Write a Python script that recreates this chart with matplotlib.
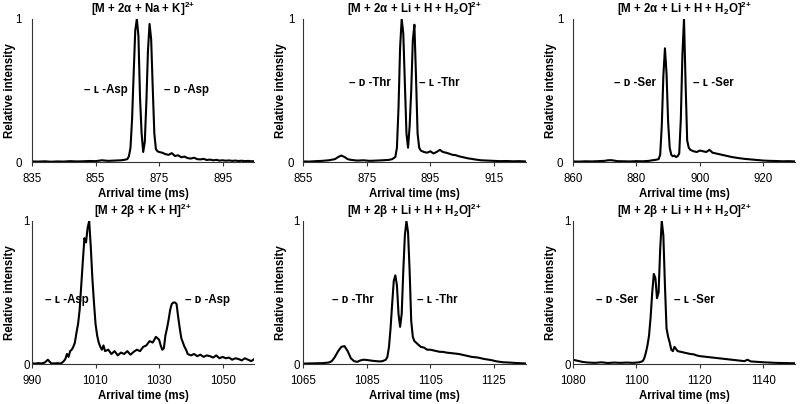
import matplotlib
matplotlib.use('Agg')
import matplotlib.pyplot as plt

plt.rcParams['font.family'] = ['Liberation Sans', 'DejaVu Sans']
plt.rcParams['mathtext.default'] = 'regular'

# ---- panel data (arrival time in ms, relative intensity) ----
t1 = [835, 837, 839, 841, 843, 845, 847, 849, 851, 853, 855, 857, 859, 861, 863, 864, 865,
      865.5, 866, 866.5, 867, 867.5, 868, 868.5, 869, 869.5, 870, 870.5, 871, 871.5, 872,
      872.5, 873, 873.5, 874, 874.5, 875,
      876, 877, 878, 879, 880, 881, 882, 883, 884, 885, 886, 887, 888, 889, 890, 891, 892,
      893, 894, 895, 896, 897, 898, 899, 900, 901, 902, 903, 904, 905]
y1 = [0.004, 0.003, 0.005, 0.002, 0.004, 0.003, 0.006, 0.004, 0.005, 0.007, 0.006, 0.012,
      0.008, 0.01, 0.012, 0.015, 0.02,
      0.04, 0.1, 0.3, 0.62, 0.92, 1.0, 0.88, 0.45, 0.2, 0.07, 0.14, 0.42, 0.78, 0.965,
      0.86, 0.52, 0.2, 0.09, 0.075, 0.07,
      0.065, 0.055, 0.05, 0.062, 0.042, 0.047, 0.033, 0.038, 0.027, 0.024, 0.03, 0.02, 0.018,
      0.022, 0.014, 0.017, 0.012, 0.015, 0.01, 0.012, 0.009, 0.011, 0.008, 0.01, 0.007,
      0.009, 0.006, 0.008, 0.005, 0.006]

t2 = [855, 857, 859, 861, 863, 865, 866, 867, 868, 869, 870, 872, 874, 876, 878, 880, 882,
      883, 884,
      884.5, 885, 885.5, 886, 886.5, 887, 887.5, 888, 888.5, 889, 889.5, 890, 890.5, 891,
      891.5, 892,
      893, 894, 895, 896, 897, 898, 899, 900, 901, 902, 903, 904, 905, 906, 907, 908, 909,
      911, 913, 915, 917, 919, 921, 923, 925]
y2 = [0.004, 0.003, 0.006, 0.008, 0.012, 0.02, 0.035, 0.045, 0.035, 0.02, 0.015, 0.01,
      0.012, 0.008, 0.01, 0.012, 0.015, 0.02, 0.035,
      0.1, 0.38, 0.8, 1.0, 0.9, 0.55, 0.2, 0.1, 0.25, 0.5, 0.85, 0.96, 0.6, 0.2, 0.1, 0.08,
      0.07, 0.065, 0.075, 0.06, 0.07, 0.085, 0.07, 0.065, 0.058, 0.05, 0.048, 0.04, 0.035,
      0.03, 0.025, 0.022, 0.018,
      0.012, 0.01, 0.008, 0.006, 0.007, 0.005, 0.006, 0.004]

t3 = [860, 862, 864, 866, 868, 870, 871, 872, 873, 874, 876, 878, 880, 882, 884, 885, 886,
      887,
      887.5, 888, 888.5, 889, 889.5, 890, 890.5, 891, 891.5, 892, 892.5, 893, 893.5, 894,
      894.5, 895, 895.5, 896, 896.5, 897,
      898, 899, 900, 901, 902, 903, 904, 905, 906, 907, 908, 909, 910,
      912, 914, 916, 918, 920, 922, 924, 926, 928, 930]
y3 = [0.004, 0.003, 0.005, 0.004, 0.006, 0.008, 0.012, 0.013, 0.01, 0.006, 0.005, 0.004,
      0.006, 0.005, 0.008, 0.012, 0.015, 0.02,
      0.05, 0.25, 0.6, 0.795, 0.62, 0.28, 0.1, 0.05, 0.04, 0.045, 0.035, 0.04, 0.06, 0.3,
      0.75, 1.0, 0.55, 0.15, 0.1, 0.085,
      0.075, 0.07, 0.08, 0.075, 0.07, 0.085, 0.065, 0.06, 0.055, 0.05, 0.045, 0.04, 0.035,
      0.028, 0.022, 0.018, 0.014, 0.01, 0.008, 0.007, 0.005, 0.006, 0.004]

t4 = [990, 991, 992, 993, 994, 995, 996, 997, 998, 999,
      999.5, 1000, 1000.5, 1001, 1001.5, 1002, 1002.5, 1003, 1003.5, 1004, 1004.5, 1005,
      1005.5, 1006, 1006.5, 1007, 1007.5, 1008, 1008.5, 1009, 1009.5, 1010, 1010.5, 1011,
      1011.5, 1012, 1012.5, 1013,
      1014, 1015, 1016, 1017, 1018, 1019, 1020, 1021, 1022, 1023, 1024, 1025, 1026, 1027,
      1028, 1029, 1030,
      1030.5, 1031, 1031.5, 1032, 1032.5, 1033, 1033.5, 1034, 1034.5, 1035, 1035.5, 1036,
      1036.5, 1037, 1037.5, 1038, 1038.5, 1039,
      1040, 1041, 1042, 1043, 1044, 1045, 1046, 1047, 1048, 1049, 1050, 1051, 1052, 1053,
      1054, 1055, 1056, 1057, 1058, 1059, 1060]
y4 = [0.005, 0.003, 0.006, 0.004, 0.01, 0.03, 0.005, 0.004, 0.006, 0.003,
      0.01, 0.02, 0.035, 0.07, 0.05, 0.09, 0.1, 0.12, 0.15, 0.22, 0.28, 0.38,
      0.55, 0.72, 0.88, 0.85, 0.95, 1.0, 0.82, 0.6, 0.43, 0.28, 0.2, 0.15,
      0.12, 0.1, 0.13, 0.09,
      0.1, 0.07, 0.09, 0.06, 0.08, 0.07, 0.09, 0.065, 0.085, 0.1, 0.09, 0.12, 0.13, 0.16,
      0.15, 0.19, 0.17,
      0.13, 0.1, 0.11, 0.2, 0.25, 0.31, 0.38, 0.42, 0.43, 0.43, 0.42, 0.33,
      0.25, 0.18, 0.15, 0.12, 0.1, 0.07,
      0.06, 0.07, 0.055, 0.065, 0.05, 0.06, 0.055, 0.045, 0.06, 0.04, 0.05, 0.04, 0.045,
      0.03, 0.04, 0.035, 0.025, 0.04, 0.03, 0.02, 0.035]

t5 = [1065, 1067, 1069, 1071, 1073,
      1074, 1075, 1076, 1077, 1078, 1079, 1080, 1081, 1082, 1083, 1084, 1085, 1086, 1087,
      1088, 1089, 1090, 1091,
      1091.5, 1092, 1092.5, 1093, 1093.5, 1094, 1094.5, 1095, 1095.5, 1096, 1096.5, 1097,
      1097.5, 1098, 1098.5, 1099, 1099.5, 1100,
      1101, 1102, 1103, 1104, 1105, 1106, 1107, 1108, 1109, 1110,
      1112, 1114, 1116, 1118, 1120, 1122, 1124, 1126, 1128, 1130, 1132, 1134, 1135]
y5 = [0.003, 0.004, 0.005, 0.006, 0.01,
      0.02, 0.05, 0.09, 0.12, 0.125, 0.09, 0.04, 0.02, 0.015, 0.025, 0.03, 0.028, 0.025,
      0.022, 0.02, 0.018, 0.02, 0.03,
      0.05, 0.12, 0.25, 0.42, 0.58, 0.62, 0.55, 0.35, 0.26, 0.35, 0.65, 0.9, 1.0, 0.92,
      0.65, 0.3, 0.19, 0.16,
      0.14, 0.12, 0.115, 0.1, 0.1, 0.095, 0.09, 0.085, 0.085, 0.08,
      0.075, 0.07, 0.06, 0.05, 0.045, 0.035, 0.028, 0.018, 0.012, 0.01, 0.007, 0.005, 0.004]

t6 = [1080, 1081, 1082, 1083, 1084, 1085, 1087, 1089, 1091, 1093, 1095, 1097, 1099, 1100,
      1101, 1102,
      1102.5, 1103, 1103.5, 1104, 1104.5, 1105, 1105.5, 1106, 1106.5, 1107, 1107.5, 1108,
      1108.5, 1109, 1109.5, 1110, 1110.5, 1111, 1111.5, 1112, 1112.5, 1113,
      1114, 1115, 1116, 1117, 1118, 1119, 1120, 1122, 1124, 1126, 1128, 1130, 1132, 1134,
      1135, 1136, 1138, 1140, 1142, 1144, 1146, 1148, 1150]
y6 = [0.03, 0.025, 0.02, 0.015, 0.012, 0.01, 0.008, 0.012, 0.007, 0.01, 0.008, 0.01, 0.008,
      0.01, 0.012, 0.02,
      0.04, 0.08, 0.13, 0.2, 0.33, 0.5, 0.63, 0.6, 0.46, 0.5, 0.8, 1.0, 0.9, 0.55, 0.25,
      0.19, 0.15, 0.1, 0.09, 0.12, 0.105, 0.09,
      0.085, 0.08, 0.075, 0.07, 0.068, 0.06, 0.055, 0.05, 0.045, 0.04, 0.035, 0.03, 0.025,
      0.02, 0.03, 0.018, 0.015, 0.012, 0.01, 0.008, 0.007, 0.006, 0.005]

titles = ['[M + 2α + Na + K]$^{2{+}}$',
          '[M + 2α + Li + H + H$_2$O]$^{2{+}}$',
          '[M + 2α + Li + H + H$_2$O]$^{2{+}}$',
          '[M + 2β + K + H]$^{2{+}}$',
          '[M + 2β + Li + H + H$_2$O]$^{2{+}}$',
          '[M + 2β + Li + H + H$_2$O]$^{2{+}}$']
xlims = [(835, 905), (855, 925), (860, 930), (990, 1060), (1065, 1135), (1080, 1150)]
xticks = [[835, 855, 875, 895], [855, 875, 895, 915], [860, 880, 900, 920],
          [990, 1010, 1030, 1050], [1065, 1085, 1105, 1125], [1080, 1100, 1120, 1140]]
# peak labels: (text, x, y)
labels = [[('– ʟ -Asp', 851.4, 0.5), ('– ᴅ -Asp', 876.4, 0.5)],
          [('– ᴅ -Thr', 869.5, 0.555), ('– ʟ -Thr', 891.6, 0.555)],
          [('– ᴅ -Ser', 872.9, 0.555), ('– ʟ -Ser', 897.7, 0.555)],
          [('– ʟ -Asp', 994.2, 0.45), ('– ᴅ -Asp', 1038.1, 0.45)],
          [('– ᴅ -Thr', 1074.0, 0.45), ('– ʟ -Thr', 1100.9, 0.45)],
          [('– ᴅ -Ser', 1087.2, 0.45), ('– ʟ -Ser', 1112.0, 0.45)]]

times = [t1, t2, t3, t4, t5, t6]
ints = [y1, y2, y3, y4, y5, y6]

fig = plt.figure(figsize=(8.0, 4.04), dpi=100)
lefts = [0.040, 0.379, 0.716]
bottoms = [0.599, 0.099]
ypads = [7.5, 6.5, 7, 1.5, 2.5, 1.5]
fs = 8.3

for i in range(6):
    ax = fig.add_axes([lefts[i % 3], bottoms[i // 3], 0.278, 0.354])
    ax.plot(times[i], ints[i], color='black', lw=1.5)
    ax.set_xlim(*xlims[i])
    ax.set_ylim(0, 1)
    ax.set_xticks(xticks[i])
    ax.set_yticks([0, 1])
    ax.set_yticklabels(['0', '1'])
    for s in ['top', 'right']:
        ax.spines[s].set_visible(False)
    for s in ['left', 'bottom']:
        ax.spines[s].set_color('#333333')
        ax.spines[s].set_linewidth(0.8)
    ax.tick_params(axis='x', direction='out', length=3, width=0.8, pad=5,
                   labelsize=fs, colors='#333333', labelcolor='black')
    ax.tick_params(axis='y', length=0, pad=ypads[i], labelsize=fs)
    ax.set_title(titles[i], fontsize=fs, fontweight='bold', pad=4)
    ax.set_xlabel('Arrival time (ms)', fontsize=fs, fontweight='bold')
    ax.xaxis.set_label_coords(0.5, -0.224)
    ax.xaxis.label.set_va('center')
    ax.set_ylabel('Relative intensity', fontsize=fs, fontweight='bold')
    ax.yaxis.set_label_coords(-0.1, 0.5)
    ax.yaxis.label.set_va('center')
    for txt, lx, ly in labels[i]:
        ax.text(lx, ly, txt, fontsize=fs, fontweight='bold', ha='left', va='center')

fig.savefig('out.png', dpi=100)
